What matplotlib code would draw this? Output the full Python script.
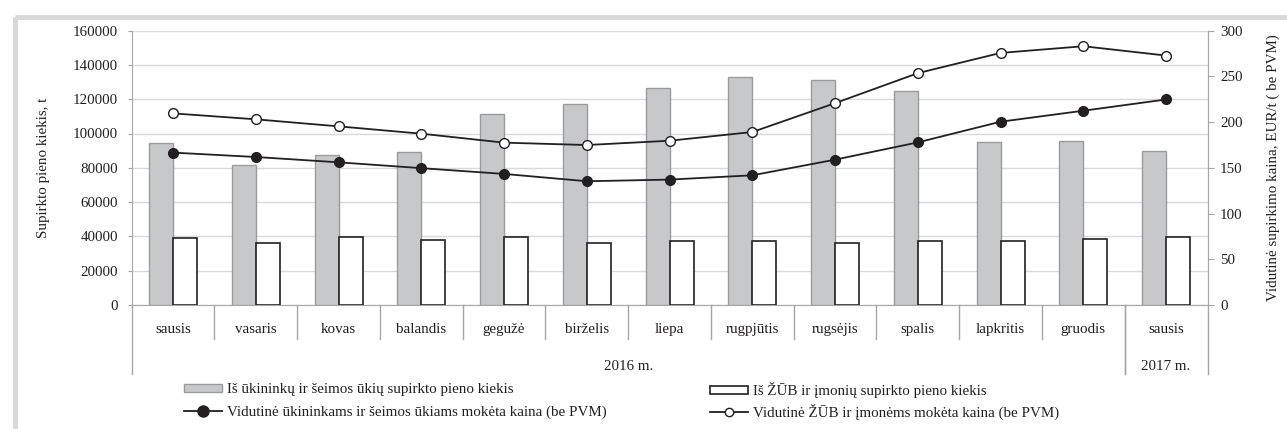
import matplotlib.pyplot as plt
import matplotlib.transforms as mtransforms
from matplotlib.patches import Patch, Rectangle
from matplotlib.lines import Line2D
import numpy as np

# ================= DATA =================
months = ['sausis', 'vasaris', 'kovas', 'balandis', 'gegužė', 'birželis', 'liepa',
          'rugpjūtis', 'rugsėjis', 'spalis', 'lapkritis', 'gruodis', 'sausis']
years = ['2016 m.', '2017 m.']
year_span = [12, 1]   # kiek mėnesių kiekvienais metais

kiekis_ukiai = [94600, 81600, 87600, 89400, 111200, 117000, 126400,
                132900, 131200, 124600, 95000, 95800, 89600]
kiekis_zub = [38900, 36300, 39650, 37900, 39650, 36300, 37300,
              37100, 36300, 37300, 37300, 38700, 39650]
kaina_ukiai = [166.6, 161.8, 156.0, 149.6, 143.3, 135.3, 137.1,
               141.8, 158.9, 177.8, 200.4, 212.4, 224.7]
kaina_zub = [209.5, 203.0, 195.3, 187.3, 177.5, 174.9, 179.6,
             189.1, 220.7, 253.5, 275.6, 282.9, 272.7]

lbl_ukiai = 'Iš ūkininkų ir šeimos ūkių supirkto pieno kiekis'
lbl_zub = 'Iš ŽŪB ir įmonių supirkto pieno kiekis'
lbl_k_ukiai = 'Vidutinė ūkininkams ir šeimos ūkiams mokėta kaina (be PVM)'
lbl_k_zub = 'Vidutinė ŽŪB ir įmonėms mokėta kaina (be PVM)'

# ================= STYLE =================
plt.rcParams['font.family'] = ['Liberation Serif', 'DejaVu Serif']
plt.rcParams['font.size'] = 10.8
TXT = '#231f20'
GRID = '#d9d9d9'
AXC = '#a6a6a6'
BAR_G = '#c7c8ca'
BAR_GE = '#9b9b9b'

W, H = 1287, 429
fig = plt.figure(figsize=(W / 100, H / 100), dpi=100)

# pilkas remelis
fig.patches.append(Rectangle((15 / W, 1 - 16.5 / H), 1.1, -1.2, transform=fig.transFigure,
                             fill=False, edgecolor=GRID, linewidth=3.6, zorder=-5))

x0, x1, ytop, ybot = 131.7, 1207.5, 30.6, 305
ax = fig.add_axes([x0 / W, 1 - ybot / H, (x1 - x0) / W, (ybot - ytop) / H])

x = np.arange(len(months))
bw = 0.29
ax.bar(x - bw / 2, kiekis_ukiai, bw, color=BAR_G, edgecolor=BAR_GE, linewidth=1.0, zorder=2)
ax.bar(x + bw / 2, kiekis_zub, bw, color='white', edgecolor='#231f20', linewidth=1.2, zorder=2)

ax.set_xlim(-0.5, len(months) - 0.5)
ax.set_ylim(0, 160000)
ax.set_yticks(np.arange(0, 160001, 20000))
ax.yaxis.grid(True, color=GRID, linewidth=1.0)
ax.set_axisbelow(True)
ax.set_xticks([])
ax.tick_params(axis='y', length=3, color=AXC, pad=7, labelcolor=TXT)
ax.spines['top'].set_visible(False)
for s in ['left', 'bottom', 'right']:
    ax.spines[s].set_color(AXC)
ax.set_ylabel('Supirkto pieno kiekis, t', color=TXT)
ax.yaxis.set_label_coords(-0.076, 0.5)

ax2 = ax.twinx()
ax2.plot(x, kaina_ukiai, color='#231f20', lw=1.3, marker='o', markersize=7,
         markerfacecolor='#231f20', markeredgecolor='#231f20', zorder=3)
ax2.plot(x, kaina_zub, color='#231f20', lw=1.3, marker='o', markersize=7,
         markerfacecolor='white', markeredgecolor='#231f20', zorder=3)
ax2.set_ylim(0, 300)
ax2.set_yticks(np.arange(0, 301, 50))
ax2.tick_params(axis='y', length=4, color=AXC, pad=5, labelcolor=TXT)
for s in ['top', 'left', 'bottom']:
    ax2.spines[s].set_visible(False)
ax2.spines['right'].set_color(AXC)
ax2.set_ylabel('Vidutinė supirkimo kaina, EUR/t ( be PVM)', color=TXT)
ax2.yaxis.set_label_coords(1.055, 0.5)

# ================= KATEGORIJU ASIS =================
tr = mtransforms.blended_transform_factory(ax.transData, ax.transAxes)
ax_h = ybot - ytop
y_month = -(329.3 - ybot) / ax_h
y_div = -(339.3 - ybot) / ax_h
y_year = -(366 - ybot) / ax_h
y_long = -(373.5 - ybot) / ax_h

for i, m in enumerate(months):
    ax.text(i, y_month, m, transform=tr, ha='center', va='center', color=TXT)

year_edges = np.cumsum([0] + year_span) - 0.5
for k in range(1, len(months)):
    b = k - 0.5
    yb = y_long if b in year_edges else y_div
    ax.plot([b, b], [0, yb], transform=tr, color=AXC, lw=1.0, clip_on=False)
for b in year_edges:
    ax.plot([b, b], [0, y_long], transform=tr, color=AXC, lw=1.0, clip_on=False)
for j, yl in enumerate(years):
    c = (year_edges[j] + year_edges[j + 1]) / 2
    ax.text(c, y_year, yl, transform=tr, ha='center', va='center', color=TXT)

# ================= LEGENDA =================
h_g = Patch(facecolor=BAR_G, edgecolor=BAR_GE, linewidth=1.0)
h_w = Patch(facecolor='white', edgecolor='#231f20', linewidth=1.2)
h_lf = Line2D([], [], color='#231f20', lw=1.3, marker='o', markersize=8,
              markerfacecolor='#231f20')
h_lo = Line2D([], [], color='#231f20', lw=1.3, marker='o', markersize=6,
              markerfacecolor='white', markeredgecolor='#231f20')

kw = dict(loc='center left', frameon=False, handlelength=2.55, handleheight=0.45,
          handletextpad=0.3, borderpad=0, borderaxespad=0, labelcolor=TXT)
entries = [(h_g, lbl_ukiai, 184, 390), (h_lf, lbl_k_ukiai, 184, 412),
           (h_w, lbl_zub, 710, 390), (h_lo, lbl_k_zub, 710, 412)]
for h, lb, px, py in entries:
    fig.legend([h], [lb], bbox_to_anchor=(px / W, 1 - py / H), **kw)

fig.savefig('out.png', dpi=100)
